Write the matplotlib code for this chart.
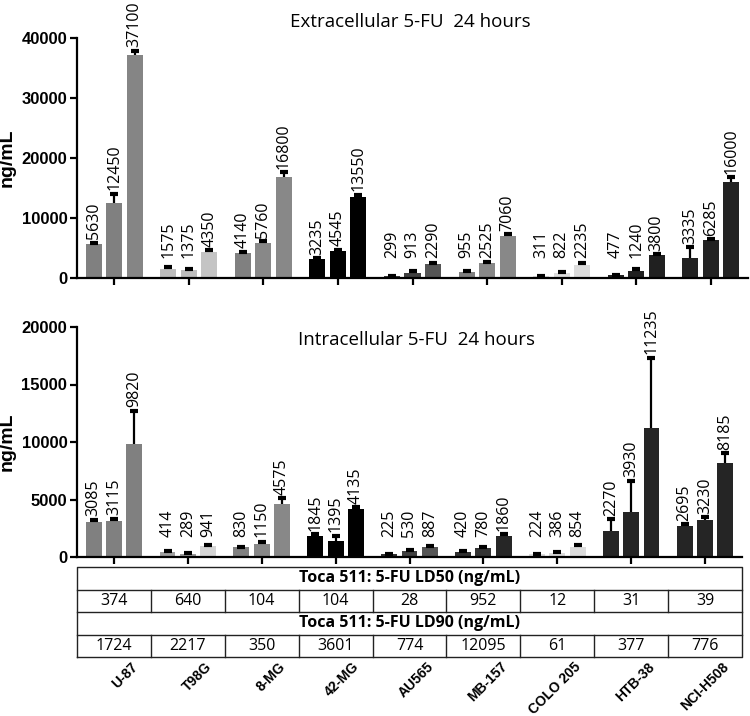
import matplotlib
matplotlib.use('Agg')
import matplotlib.pyplot as plt
import numpy as np

# ---------------- data ----------------
cell_lines = ['U-87', 'T98G', '8-MG', '42-MG', 'AU565', 'MB-157', 'COLO 205', 'HTB-38', 'NCI-H508']

extra_vals = [[5630, 12450, 37100], [1575, 1375, 4350], [4140, 5760, 16800],
              [3235, 4545, 13550], [299, 913, 2290], [955, 2525, 7060],
              [311, 822, 2235], [477, 1240, 3800], [3335, 6285, 16000]]
extra_err = [[250, 1600, 800], [200, 200, 300], [250, 400, 800],
             [100, 150, 300], [60, 200, 200], [250, 200, 200],
             [60, 150, 200], [60, 300, 200], [1800, 200, 800]]

intra_vals = [[3085, 3115, 9820], [414, 289, 941], [830, 1150, 4575],
              [1845, 1395, 4135], [225, 530, 887], [420, 780, 1860],
              [224, 386, 854], [2270, 3930, 11235], [2695, 3230, 8185]]
intra_err = [[150, 200, 2900], [80, 60, 120], [80, 120, 550],
             [150, 450, 200], [50, 80, 100], [60, 80, 100],
             [40, 60, 200], [1000, 2700, 6100], [150, 250, 830]]

ld50 = [374, 640, 104, 104, 28, 952, 12, 31, 39]
ld90 = [1724, 2217, 350, 3601, 774, 12095, 61, 377, 776]

extra_colors = [['#808080', '#808080', '#858585'],
                ['#bdbdbd', '#bdbdbd', '#c4c4c4'],
                ['#808080', '#888888', '#888888'],
                ['#000000', '#000000', '#000000'],
                ['#3a3a3a', '#404040', '#555555'],
                ['#808080', '#888888', '#888888'],
                ['#dcdcdc', '#dcdcdc', '#dcdcdc'],
                ['#202020', '#202020', '#202020'],
                ['#222222', '#222222', '#222222']]
intra_colors = [['#808080', '#808080', '#808080'],
                ['#a0a0a0', '#9a9a9a', '#d4d4d4'],
                ['#808080', '#888888', '#888888'],
                ['#000000', '#000000', '#000000'],
                ['#303030', '#404040', '#555555'],
                ['#303030', '#333333', '#262626'],
                ['#dcdcdc', '#dcdcdc', '#dcdcdc'],
                ['#252525', '#252525', '#252525'],
                ['#252525', '#252525', '#252525']]

titles = ['Extracellular 5-FU  24 hours', 'Intracellular 5-FU  24 hours']
ylabel = 'ng/mL'
ld50_header = 'Toca 511: 5-FU LD50 (ng/mL)'
ld90_header = 'Toca 511: 5-FU LD90 (ng/mL)'

# ---------------- figure ----------------
W, H = 750, 716
fig = plt.figure(figsize=(W / 100, H / 100), dpi=100)

LBL_FONT = 'Open Sans'
AX_FONT = 'Liberation Sans'


def fx(px):
    return px / W


def fy(px):
    return 1 - px / H


def style_axes(ax, ymax, step):
    ax.set_xlim(-0.5, 8.5)
    ax.set_ylim(0, ymax)
    for s in ['top', 'right']:
        ax.spines[s].set_visible(False)
    for s in ['left', 'bottom']:
        ax.spines[s].set_linewidth(1.6)
    ax.set_xticks(np.arange(len(cell_lines)))
    ax.set_xticklabels([])
    ax.set_yticks(np.arange(0, ymax + 1, step))
    ax.tick_params(direction='out', length=5, width=1.6, pad=2)
    for t in ax.get_yticklabels():
        t.set_fontfamily(AX_FONT)
        t.set_fontweight('bold')
        t.set_fontsize(12)
    ax.set_ylabel(ylabel, fontfamily=AX_FONT, fontweight='bold', fontsize=14, labelpad=4)


def draw(ax, vals, errs, colors, ymax):
    offs = [-0.275, 0.0, 0.275]
    n = len(cell_lines)
    for j in range(3):
        x = np.arange(n) + offs[j]
        v = np.array([vals[i][j] for i in range(n)], dtype=float)
        e = np.array([errs[i][j] for i in range(n)], dtype=float)
        c = [colors[i][j] for i in range(n)]
        ax.bar(x, v, width=0.215, color=c, edgecolor='none', zorder=2)
        eb = ax.errorbar(x, v, yerr=[np.zeros(n), e], fmt='none', ecolor='black',
                         elinewidth=1.6, capsize=2.6, capthick=3, zorder=3)
        eb[1][0].set_visible(False)
        for xi, vi, ei in zip(x, v, e):
            base = max(vi + ei, 0.07 * ymax)
            ax.annotate(str(int(vi)), (xi, base), xytext=(0, 2.5), textcoords='offset points',
                        rotation=90, ha='center', va='bottom', fontsize=11.5,
                        fontfamily=LBL_FONT, annotation_clip=False)


# top axes
ax1 = fig.add_axes([fx(77), fy(278), fx(748) - fx(77), (278 - 38) / H])
draw(ax1, extra_vals, extra_err, extra_colors, 40000)
style_axes(ax1, 40000, 10000)

# bottom axes
ax2 = fig.add_axes([fx(77), fy(557), fx(742) - fx(77), (557 - 327) / H])
draw(ax2, intra_vals, intra_err, intra_colors, 20000)
style_axes(ax2, 20000, 5000)

fig.text(fx(410), fy(22), titles[0], ha='center', va='center', fontsize=13.5, fontfamily=LBL_FONT)
fig.text(fx(416), fy(340), titles[1], ha='center', va='center', fontsize=13.5, fontfamily=LBL_FONT)

# table
axt = fig.add_axes([fx(77), fy(657), fx(742) - fx(77), (657 - 567) / H])
axt.set_xlim(-0.5, 8.5)
axt.set_ylim(0, 4)
axt.axis('off')
lc = '#222222'
lw = 1.0
n = len(cell_lines)
axt.plot([-0.5, 8.5, 8.5, -0.5, -0.5], [0, 0, 4, 4, 0], color=lc, lw=lw, clip_on=False)
for yy in [1, 2, 3]:
    axt.plot([-0.5, 8.5], [yy, yy], color=lc, lw=lw, clip_on=False)
for k in range(1, n):
    xb = k - 0.5
    axt.plot([xb, xb], [2, 3], color=lc, lw=lw, clip_on=False)
    axt.plot([xb, xb], [0, 1], color=lc, lw=lw, clip_on=False)
axt.text(4, 3.5, ld50_header, ha='center', va='center', fontsize=11.5, fontweight='bold', fontfamily=LBL_FONT)
axt.text(4, 1.5, ld90_header, ha='center', va='center', fontsize=11.5, fontweight='bold', fontfamily=LBL_FONT)
for i in range(n):
    axt.text(i, 2.5, str(ld50[i]), ha='center', va='center', fontsize=11.5, fontfamily=LBL_FONT)
    axt.text(i, 0.5, str(ld90[i]), ha='center', va='center', fontsize=11.5, fontfamily=LBL_FONT)
    axt.annotate(cell_lines[i], (i, 0), xytext=(12, -2), textcoords='offset points',
                 rotation=45, ha='right', va='top', rotation_mode='anchor',
                 fontsize=10, fontweight='bold', fontfamily=AX_FONT, annotation_clip=False)

fig.savefig('out.png', dpi=100)
